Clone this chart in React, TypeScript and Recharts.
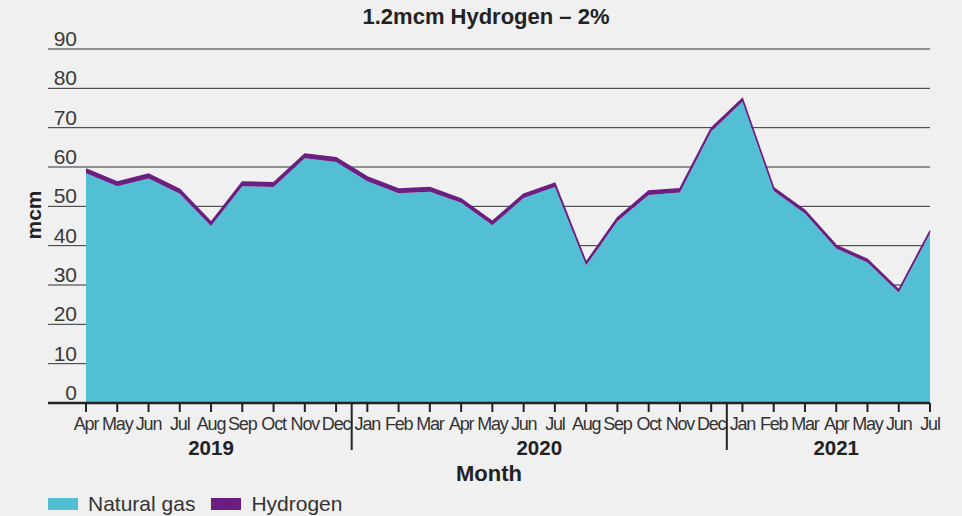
import { Area, AreaChart, CartesianGrid, Legend, XAxis, YAxis } from "recharts";

// Monthly gas volumes (mcm), Apr 2019 – Jul 2021, with a thin hydrogen layer on top.

const months = [
  "Apr", "May", "Jun", "Jul", "Aug", "Sep", "Oct", "Nov", "Dec",
  "Jan", "Feb", "Mar", "Apr", "May", "Jun", "Jul", "Aug", "Sep", "Oct", "Nov", "Dec",
  "Jan", "Feb", "Mar", "Apr", "May", "Jun", "Jul",
];

const naturalGas = [
  58.4, 55.1, 57.1, 53.2, 45.0, 55.1, 54.9, 62.2, 61.3,
  56.4, 53.3, 53.7, 50.9, 45.2, 52.1, 54.9, 35.0, 46.2, 52.9, 53.5, 69.0,
  76.6, 53.9, 48.2, 39.3, 35.7, 28.1, 43.1,
];

const hydrogen = [
  1.1, 1.1, 1.1, 1.1, 1.0, 1.1, 1.1, 1.1, 1.1,
  1.1, 1.1, 1.1, 1.0, 1.0, 1.0, 1.0, 0.8, 0.9, 1.0, 1.0, 0.9,
  0.8, 0.8, 0.8, 0.8, 0.8, 0.7, 0.7,
];

const seriesNames = ["Natural gas", "Hydrogen"];

const years = ["2019", "2020", "2021"];
// index of the first month of each year in the series
const yearStarts = [0, 9, 21];

const yTicks = [0, 10, 20, 30, 40, 50, 60, 70, 80, 90];

const GAS = "#53bfd4";
const H2 = "#6b1f80";
const INK = "#222";
const FONT = "'Liberation Sans', Arial, sans-serif";

const rows = months.map((m, i) => ({
  i,
  month: m,
  gas: naturalGas[i],
  h2: hydrogen[i],
}));

const lastIndex = months.length - 1;
const yearEnds = yearStarts.map((s, k) => (k + 1 < yearStarts.length ? yearStarts[k + 1] - 1 : lastIndex));
const yearCenters = yearStarts.map((s, k) => (s + yearEnds[k]) / 2);
const separators = yearStarts.slice(1).map((s) => s - 0.5);
const xTicks = Array.from(new Set([...rows.map((r) => r.i), ...separators, ...yearCenters])).sort((a, b) => a - b);

function MonthTick(props: any) {
  const { x, y, payload } = props;
  const v = payload.value as number;
  if (separators.includes(v)) {
    return <line x1={x} x2={x} y1={y} y2={y + 47} stroke={INK} strokeWidth={2} />;
  }
  const yearIdx = yearCenters.indexOf(v);
  return (
    <g>
      {Number.isInteger(v) && (
        <>
          <line x1={x} x2={x} y1={y} y2={y + 9} stroke={INK} strokeWidth={2} />
          <text
            x={x}
            y={y + 27}
            textAnchor="middle"
            fontFamily={FONT}
            fontSize={18}
            letterSpacing={-1.2}
            fill="#333"
          >
            {months[v]}
          </text>
        </>
      )}
      {yearIdx >= 0 && (
        <text x={x} y={y + 52} textAnchor="middle" fontFamily={FONT} fontSize={20.5} fontWeight="bold" fill={INK}>
          {years[yearIdx]}
        </text>
      )}
    </g>
  );
}

function ValueTick(props: any) {
  const { x, y, payload } = props;
  return (
    <text x={x + 29} y={y - 3} textAnchor="end" fontFamily={FONT} fontSize={21} fill="#3a3a3a">
      {payload.value}
    </text>
  );
}

function LegendRow({ payload }: any) {
  const items = [...(payload || [])].sort(
    (a: any, b: any) => seriesNames.indexOf(a.value) - seriesNames.indexOf(b.value)
  );
  return (
    <div style={{ display: "flex", alignItems: "center", fontFamily: FONT, fontSize: 21, color: "#333" }}>
      {items.map((p: any) => (
        <div key={p.value} style={{ display: "flex", alignItems: "center", marginRight: 16 }}>
          <span style={{ display: "inline-block", width: 30, height: 12, background: p.color, marginRight: 10 }} />
          <span style={{ lineHeight: "20px" }}>{p.value}</span>
        </div>
      ))}
    </div>
  );
}

export default function App() {
  return (
    <div style={{ position: "absolute", left: 0, top: 0, width: 962, height: 516, background: "#f0f0f0" }}>
      <div
        style={{
          position: "absolute",
          left: 42,
          width: 888,
          top: 6,
          textAlign: "center",
          fontFamily: FONT,
          fontSize: 22,
          lineHeight: "22px",
          fontWeight: "bold",
          color: INK,
        }}
      >
        1.2mcm Hydrogen – 2%
      </div>
      <AreaChart width={962} height={516} data={rows} margin={{ top: 49, right: 32, bottom: 0, left: 0 }}>
        <CartesianGrid vertical={false} stroke="#333" />
        <XAxis
          dataKey="i"
          type="number"
          domain={[0, lastIndex]}
          ticks={xTicks}
          interval={0}
          padding={{ left: 38, right: 0 }}
          height={113}
          tickSize={0}
          tickMargin={0}
          tickLine={false}
          axisLine={{ stroke: INK, strokeWidth: 2.5 }}
          tick={(p: any) => <MonthTick {...p} />}
          label={{
            value: "Month",
            position: "insideBottom",
            offset: 35,
            fontFamily: FONT,
            fontSize: 22,
            fontWeight: "bold",
            fill: INK,
          }}
        />
        <YAxis
          domain={[0, 90]}
          ticks={yTicks}
          width={48}
          tickSize={0}
          tickMargin={0}
          tickLine={false}
          axisLine={false}
          tick={(p: any) => <ValueTick {...p} />}
          label={({ viewBox }: any) => (
            <text
              x={viewBox.x + 41}
              y={viewBox.y + viewBox.height / 2 - 11}
              transform={`rotate(-90, ${viewBox.x + 41}, ${viewBox.y + viewBox.height / 2 - 11})`}
              textAnchor="middle"
              fontFamily={FONT}
              fontSize={21}
              fontWeight="bold"
              fill={INK}
            >
              mcm
            </text>
          )}
        />
        <Legend
          verticalAlign="middle"
          align="center"
          layout="horizontal"
          wrapperStyle={{ left: 48, top: 494, width: "auto" }}
          content={(p: any) => <LegendRow payload={p.payload} />}
        />
        <Area
          type="linear"
          dataKey="gas"
          name="Natural gas"
          stackId="1"
          fill={GAS}
          fillOpacity={1}
          stroke="none"
          isAnimationActive={false}
        />
        <Area
          type="linear"
          dataKey="h2"
          name="Hydrogen"
          stackId="1"
          fill={H2}
          fillOpacity={1}
          stroke={H2}
          strokeWidth={1.4}
          isAnimationActive={false}
        />
      </AreaChart>
    </div>
  );
}
